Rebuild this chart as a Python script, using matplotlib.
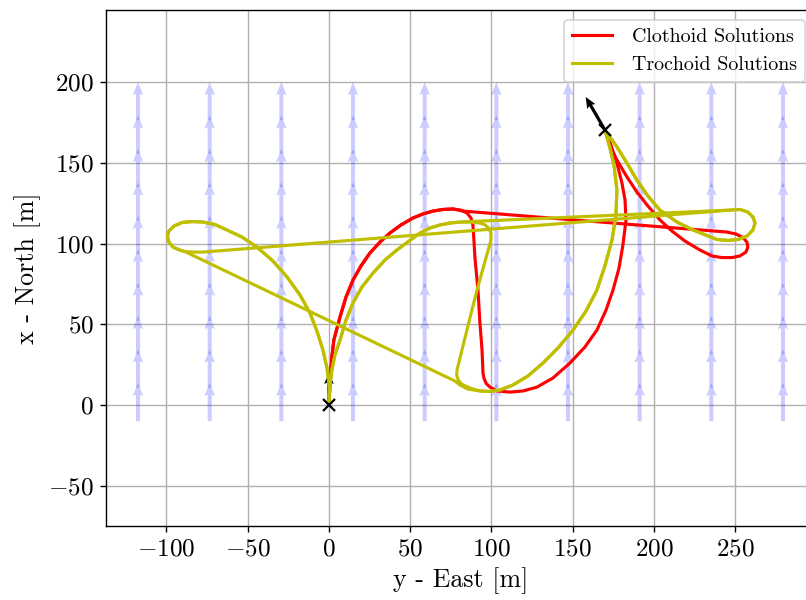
import matplotlib
matplotlib.use("Agg")
import matplotlib.pyplot as plt
import numpy as np

plt.rcParams.update({
    "font.family": "serif",
    "font.serif": ["cmr10"],
    "mathtext.fontset": "cm",
    "axes.formatter.use_mathtext": True,
    "axes.unicode_minus": True,
})

# wind field (arrows pointing north)
wind_x = [-117.5, -73.4, -29.3, 14.8, 58.9, 103.0, 147.1, 191.2, 235.3, 279.4]
wind_y = [-10.0, 10.7, 31.4, 52.1, 72.8, 93.5, 114.2, 134.9, 155.6, 176.3]
wind_len = 23.6

start = (0, 0)
goal = (170, 170)
start_dir = (0, 20)
goal_dir = (-12, 20.8)

# clothoid path pieces (y - East, x - North)
red_arc = [(0, 0), (0.6, 13.6), (1.8, 29.7), (3.0, 40.2), (6.8, 54.5), (10.5, 66.9),
           (14.8, 77.4), (19.7, 86.1), (25.2, 94.1), (31.4, 100.9), (37.5, 106.5),
           (44.3, 111.5), (51.7, 115.8), (57.8, 118.3), (64, 120.1), (70.2, 121.1),
           (76.3, 121.4)]
red_drop = [(76.3, 121.4), (81.2, 120.7), (84.9, 118.9), (87.4, 115.8), (88.6, 111.5),
            (89.2, 102.2), (89.8, 91.6), (91.7, 71.2), (92.9, 50.8), (94.2, 34.1),
            (94.8, 19.8), (95.4, 16.5), (96.8, 13.3), (99.1, 11.1), (103.4, 8.7),
            (111.4, 8), (119.4, 8.7), (128, 11.1), (137.8, 16.7), (148.3, 26),
            (157.5, 35.9), (164.9, 46.4), (170.5, 58.8), (174.8, 71.2), (178.5, 84.8),
            (180.9, 99.1), (182.8, 114.6), (182.2, 126.9), (180.3, 137.5),
            (177.2, 149.8), (173.5, 161), (170, 170)]
red_loop = [(76.3, 121.4), (82.5, 120.1), (142.2, 115.3), (244.9, 107.1), (250.5, 105.9),
            (254.8, 103.7), (257.2, 100.9), (257.8, 97.8), (256.6, 94.7), (252.9, 92.3),
            (248, 91.3), (241.8, 91.3), (235.7, 92.3), (228.3, 96), (219.1, 101.5),
            (211.1, 107.7), (203.7, 114.6), (196.3, 123.2), (189.5, 131.9),
            (183.4, 141.2), (177.2, 151.7), (172.9, 160.4), (170, 170)]

# trochoid path pieces
yel_arc_r = [(0, 0), (0.6, 12.4), (1.8, 21.7), (3.7, 31), (6.8, 40.2), (10.5, 52.6),
             (14.8, 63.2), (20.3, 73.1), (27.1, 81.7), (34.5, 89.8), (41.8, 96),
             (49.2, 101.5), (56, 106.5), (62.2, 109.6), (68.3, 111.5), (74.5, 112.7),
             (80.6, 113.3)]
yel_drop = [(80.6, 113.3), (86.8, 113.3), (92.9, 112.7), (96.0, 111.6), (98.3, 109.6),
            (99.7, 106.5), (99.7, 102.2), (95.4, 86.7), (91.1, 71.2), (84.9, 46.4),
            (78.8, 21.7), (78.6, 18.6)]
yel_bottom = [(78.6, 18.6), (79.6, 15.3), (81.8, 12.9), (86.8, 10.5), (92.9, 8.7),
              (99.1, 8.4), (105.2, 9.3), (113.2, 12.4), (122.5, 18), (131.7, 26),
              (140.9, 35.3), (150.2, 46.4), (158.2, 58.2), (164.9, 71.2), (169.8, 86.1),
              (174.2, 102.2), (176.6, 117.6), (177.2, 133.1), (175.4, 148.6),
              (172.9, 159.1), (170, 170)]
yel_line_r = [(80.6, 113.3), (246.8, 120.7), (252.9, 121.1)]
yel_loop_r = [(252.9, 121.1), (257.8, 119.5), (260.9, 116.4), (262.2, 112.7),
              (260.9, 108.4), (257.2, 104.6), (251.7, 102.5), (245.5, 101.9),
              (238.8, 102.5), (224, 108.4), (214.2, 113.3), (203.7, 120.7),
              (196.3, 129.4), (189.5, 139.3), (183.4, 149.8), (177.2, 159.8), (170, 170)]
yel_arc_l = [(0, 0), (0.3, 11.1), (-1.2, 22.9), (-3.7, 34.1), (-7.4, 45.8), (-11.7, 57),
             (-17.8, 68.1), (-25.8, 79.3), (-34.5, 89.2), (-44.3, 97.8), (-53.5, 104),
             (-62.8, 108.4), (-70.2, 111.8), (-77.5, 113.3), (-84.3, 113.6),
             (-90.5, 113.0), (-95.4, 110.8), (-98.5, 107.7), (-99.4, 104.6),
             (-98.5, 100.9), (-96, 97.8), (-91.7, 95.9), (-88.6, 95.0)]
yel_diag = [(-88.6, 95.0), (77.5, 14.9), (80.6, 12.4), (85.5, 9.9), (92.9, 8.7)]
yel_long = [(-88.6, 95.0), (-83.7, 94.7), (-77.5, 94.7), (246.8, 120.7), (252.9, 121.1)]

red_paths = [red_arc + red_drop[1:], red_arc + red_loop[1:]]
yel_paths = [yel_arc_r + yel_drop[1:] + yel_bottom[1:],
             yel_arc_r + yel_line_r[1:] + yel_loop_r[1:],
             yel_arc_l + yel_diag[1:] + yel_bottom[5:],
             yel_arc_l + yel_long[1:] + yel_loop_r[1:]]

fig = plt.figure(figsize=(806 / 125, 600 / 125), dpi=125)
# the right spine sits just past the image edge, as in the reference
ax = fig.add_axes([106 / 806, 74 / 600, 709 / 806, 516 / 600])

wx, wy = np.meshgrid(wind_x, wind_y)
ax.quiver(wx, wy, np.zeros_like(wx), np.full_like(wy, wind_len), color="b", alpha=0.2,
          angles="xy", scale_units="xy", scale=1, width=0.0057,
          headwidth=2.6, headlength=3.2, headaxislength=2.9, zorder=1)

ax.quiver(start[0], start[1], start_dir[0], start_dir[1], color="k", angles="xy",
          scale_units="xy", scale=1, width=0.0045, headwidth=3, headlength=3.5,
          headaxislength=3.1, zorder=2)
ax.quiver(goal[0], goal[1], goal_dir[0], goal_dir[1], color="k", angles="xy",
          scale_units="xy", scale=1, width=0.0045, headwidth=3, headlength=3.5,
          headaxislength=3.1, zorder=2)

for i, p in enumerate(red_paths):
    x, y = zip(*p)
    ax.plot(x, y, color="r", lw=1.8, label="Clothoid Solutions" if i == 0 else None,
            zorder=3, solid_joinstyle="round")
for i, p in enumerate(yel_paths):
    x, y = zip(*p)
    ax.plot(x, y, color="y", lw=1.8, label="Trochoid Solutions" if i == 0 else None,
            zorder=3, solid_joinstyle="round")

ax.plot(*start, "kx", ms=6.5, mew=1.3, zorder=4)
ax.plot(*goal, "kx", ms=6.5, mew=1.3, zorder=4)

ax.set_xlim(-137.2, 299.1)
ax.set_ylim(-74.9, 244.6)
ax.set_xticks([-100, -50, 0, 50, 100, 150, 200, 250])
ax.set_yticks([-50, 0, 50, 100, 150, 200])
ax.tick_params(labelsize=14.5)
ax.grid(True)
ax.set_axisbelow(True)
ax.set_xlabel("y - East [m]", fontsize=15)
ax.set_ylabel("x - North [m]", fontsize=15)
ax.legend(loc="upper right", fontsize=11.5, handletextpad=1.0)

fig.savefig("out.png", dpi=125)
